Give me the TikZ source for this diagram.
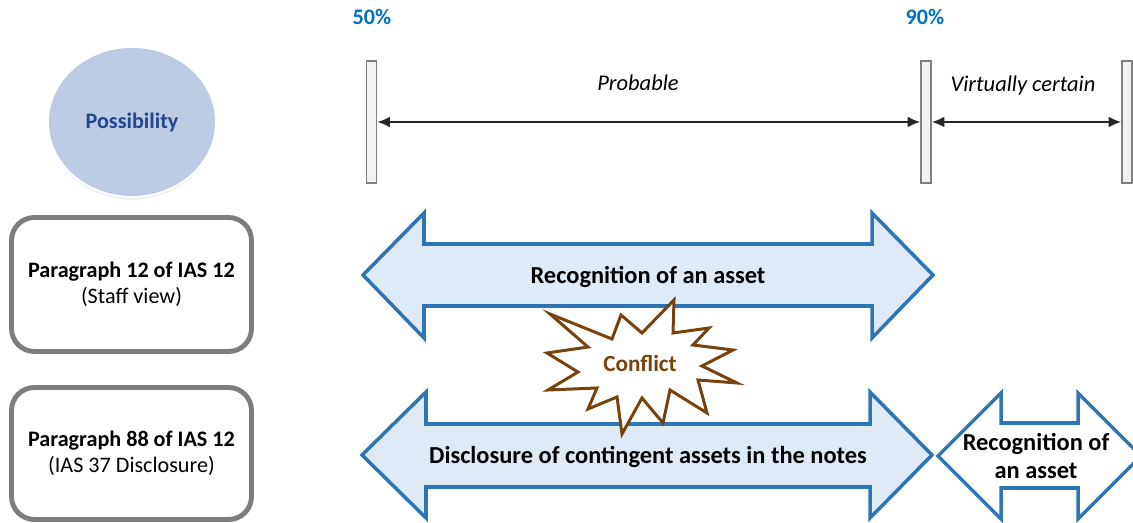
\documentclass[tikz,border=0pt]{standalone}
\usepackage{fontspec}
\setmainfont{Carlito}
\usetikzlibrary{shapes.geometric,arrows.meta,shadows}

\definecolor{pctblue}{RGB}{0,112,192}
\definecolor{possfill}{RGB}{190,203,228}
\definecolor{posstext}{RGB}{31,73,140}
\definecolor{bargray}{RGB}{128,128,128}
\definecolor{barfill}{RGB}{242,242,242}
\definecolor{boxgray}{RGB}{125,125,125}
\definecolor{arrowblue}{RGB}{46,117,182}
\definecolor{arrowfill}{RGB}{222,235,247}
\definecolor{conflictbrown}{RGB}{120,66,12}

\begin{document}
\begin{tikzpicture}[x=0.02cm,y=-0.02cm,
  pct/.style={text=pctblue,font=\fontsize{12.6}{15}\selectfont\bfseries},
  zone/.style={font=\fontsize{12.8}{15}\selectfont\itshape},
  bar/.style={draw=bargray,fill=barfill,line width=1.1pt,minimum width=0.2cm,minimum height=2.44cm,inner sep=0pt},
  spanline/.style={black!85,line width=0.7pt,{Latex[length=7pt,width=6pt]}-{Latex[length=7pt,width=6pt]}},
  para/.style={draw=boxgray,line width=2.8pt,rounded corners=13pt,minimum width=4.8cm,align=center,font=\fontsize{12.6}{14.5}\selectfont},
  blockarrow/.style={draw=arrowblue,line width=2pt,line join=miter},
  arrowtext/.style={align=center,font=\fontsize{13.9}{16.5}\selectfont\bfseries},
  burst/.style={draw=conflictbrown,fill=white,line width=1.7pt,line join=miter}]
\useasboundingbox (0,0) rectangle (1133,523);

% Probability scale
\node[pct] (p50) at (372,17) {50\%};
\node[pct] (p90) at (925,17) {90\%};
\node[bar] (bar50) at (371.5,122) {};
\node[bar] (bar90) at (926,122) {};
\node[bar] (barend) at (1127,122) {};
\draw[spanline] (bar50.east) -- (bar90.west);
\draw[spanline] (bar90.east) -- (barend.west);
\node[zone] (probable) at (638,83) {Probable};
\node[zone] (certain) at (1023,86) {Virtually certain};

% Row headings
\node[ellipse,fill=possfill,draw=white,line width=1pt,minimum width=3.36cm,minimum height=3cm,
  drop shadow={shadow xshift=0pt,shadow yshift=-1.5pt,opacity=0.12}] (possib) at (132,122)
  {\fontsize{12.6}{15}\selectfont\bfseries\color{posstext}Possibility};
\node[para,minimum height=2.68cm] (para12) at (131.5,284.5)
  {\textbf{Paragraph 12 of IAS 12}\\(Staff view)};
\node[para,minimum height=2.64cm] (para88) at (131.5,453.5)
  {\textbf{Paragraph 88 of IAS 12}\\(IAS 37 Disclosure)};

% Staff view
\draw[blockarrow,fill=arrowfill] (363,275) -- (424,213) -- (424,244) -- (872,244) -- (872,213) -- (933,275)
  -- (872,338) -- (872,306) -- (424,306) -- (424,338) -- cycle;
\node[arrowtext] (recog) at (648,277) {Recognition of an asset};

% IAS 37 disclosure
\draw[blockarrow,fill=arrowfill] (362,455) -- (426,392) -- (426,424) -- (870,424) -- (870,392) -- (932,455)
  -- (870,518) -- (870,487) -- (426,487) -- (426,518) -- cycle;
\node[arrowtext] (disclose) at (648,457) {Disclosure of contingent assets in the notes};
\draw[blockarrow,fill=white] (938,456) -- (1001,393) -- (1001,423) -- (1078,423) -- (1078,393) -- (1141,456)
  -- (1078,519) -- (1078,488) -- (1001,488) -- (1001,519) -- cycle;
\node[arrowtext] (recog2) at (1036,456) {Recognition of\\an asset};

% Conflict burst
\draw[burst] (550,314) -- (612,339) -- (621,315) -- (642,333) -- (674,300) -- (673,333) -- (709,328)
  -- (693,345) -- (733,350) -- (702,366) -- (737,383) -- (698,380) -- (707,413) -- (670,390)
  -- (663,423) -- (642,398) -- (622,434) -- (617,397) -- (588,409) -- (597,388) -- (548,390)
  -- (578,372) -- (547,353) -- (588,347) -- cycle;
\node[text=conflictbrown,font=\fontsize{13.2}{15}\selectfont\bfseries] (conflict) at (640,363) {Conflict};

\end{tikzpicture}
\end{document}
